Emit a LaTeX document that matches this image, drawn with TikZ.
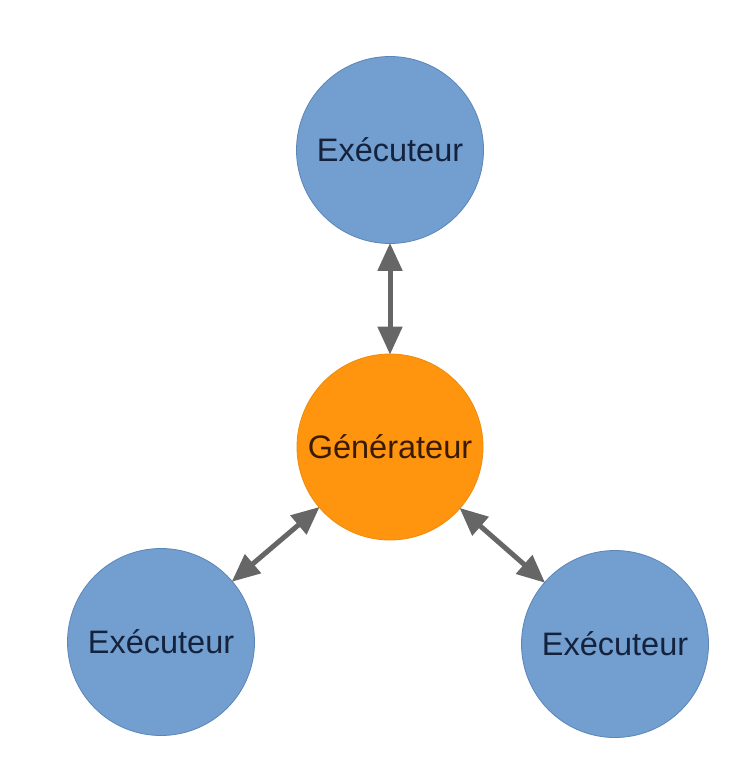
\documentclass[tikz,border=0pt]{standalone}
\usepackage{fontspec}
\setmainfont{Liberation Sans}
\usetikzlibrary{arrows.meta}
\definecolor{execfill}{HTML}{729FCF}
\definecolor{execline}{HTML}{5B86B8}
\definecolor{exectext}{HTML}{14223D}
\definecolor{genfill}{HTML}{FF950E}
\definecolor{genline}{HTML}{F08A0A}
\definecolor{gentext}{HTML}{3A1A00}
\definecolor{linkgray}{HTML}{666666}
\tikzset{
  worker/.style={circle, minimum size=187pt, inner sep=0pt, fill=execfill,
    draw=execline, line width=0.8pt, text=exectext,
    font=\fontsize{32.5}{38}\selectfont},
  generator/.style={circle, minimum size=186pt, inner sep=0pt, fill=genfill,
    draw=genline, line width=0.8pt, text=gentext,
    font=\fontsize{32.5}{38}\selectfont},
  link/.style={draw=linkgray, line width=5pt,
    {Triangle[length=28pt,width=24pt]}-{Triangle[length=28pt,width=24pt]},
    shorten <=-1pt, shorten >=-1pt}
}
\begin{document}
\begin{tikzpicture}[x=1pt,y=-1pt]
  \useasboundingbox[fill=white] (0,0) rectangle (751,776);
  \node[worker] (top) at (390,150) {Exécuteur};
  \node[generator] (gen) at (390,447) {Générateur};
  \node[worker] (left) at (161,642) {Exécuteur};
  \node[worker] (right) at (615,644) {Exécuteur};
  \draw[link] (top) -- (gen);
  \draw[link] (gen) -- (left);
  \draw[link] (gen) -- (right);
\end{tikzpicture}
\end{document}
